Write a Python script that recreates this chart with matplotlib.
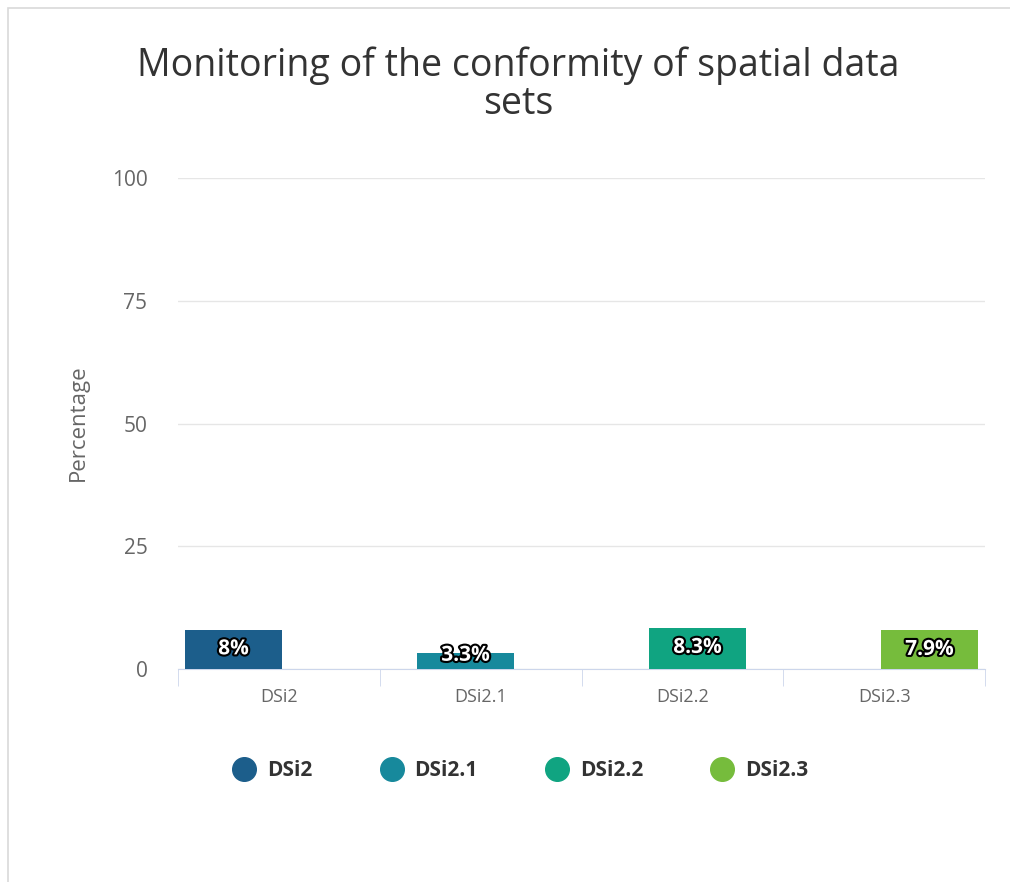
import matplotlib.pyplot as plt
import matplotlib.patheffects as pe
from matplotlib.lines import Line2D
from matplotlib.patches import Rectangle

categories = ["DSi2", "DSi2.1", "DSi2.2", "DSi2.3"]
series = ["DSi2", "DSi2.1", "DSi2.2", "DSi2.3"]
values = [8.0, 3.3, 8.3, 7.9]
labels = ["8%", "3.3%", "8.3%", "7.9%"]
colors = ["#1c5e8b", "#17899c", "#10a481", "#76bc3c"]
yticks = [0, 25, 50, 75, 100]

plt.rcParams["font.family"] = ["Open Sans", "DejaVu Sans"]

fig = plt.figure(figsize=(10.1, 8.82), dpi=100)
fig.patches.append(Rectangle((8 / 1010, -0.01), 1.1, (882 - 8) / 882 + 0.01,
                             transform=fig.transFigure, fill=False,
                             edgecolor="#d9d9d9", lw=1.2))

ax = fig.add_axes([178 / 1010, 213 / 882, 807 / 1010, 491 / 882])

slot = 0.15
width = 0.48
for i, (name, v, lab, c) in enumerate(zip(series, values, labels, colors)):
    x = i + (i - 1.5) * slot
    ax.bar(x, v, width=width, color=c, zorder=3)
    t = ax.text(x, max(v - 3.9, 2.8), lab, ha="center", va="center", color="white",
                fontsize=15, fontweight="bold", zorder=4)
    t.set_path_effects([pe.Stroke(linewidth=3, foreground="black"), pe.Normal()])

ax.set_xlim(-0.5, 3.5)
ax.set_ylim(0, 100)
ax.set_yticks(yticks)
ax.set_yticklabels([str(v) for v in yticks], color="#666666", fontsize=15)
ax.tick_params(axis="y", length=0, pad=22)
ax.yaxis.grid(True, color="#e6e6e6", lw=1)
ax.set_axisbelow(True)

ax.set_xticks(range(len(categories)))
ax.set_xticklabels(categories, color="#666666", fontsize=13)
ax.set_xticks([-0.5, 0.5, 1.5, 2.5, 3.5], minor=True)
ax.tick_params(axis="x", which="major", length=0, pad=14)
ax.tick_params(axis="x", which="minor", length=12, color="#ccd6eb", direction="out")

for s in ["top", "right", "left"]:
    ax.spines[s].set_visible(False)
ax.spines["bottom"].set_color("#ccd6eb")

fig.text(78 / 1010, (882 - 423) / 882, "Percentage", rotation=90, ha="center",
         va="center", color="#666666", fontsize=16)

fig.text(0.513, (882 - 66) / 882, "Monitoring of the conformity of spatial data",
         ha="center", va="center", color="#333333", fontsize=27)
fig.text(0.513, (882 - 104) / 882, "sets",
         ha="center", va="center", color="#333333", fontsize=27)

handles = [Line2D([0], [0], marker="o", ls="", markersize=17, color=c) for c in colors]
leg = fig.legend(handles, series, loc="center", bbox_to_anchor=(0.515, (882 - 771) / 882),
                 ncol=4, frameon=False, handletextpad=0.5, columnspacing=3.2,
                 handlelength=1.2, prop={"weight": "bold", "size": 15})
for t in leg.get_texts():
    t.set_color("#333333")

fig.savefig("out.png", dpi=100)
